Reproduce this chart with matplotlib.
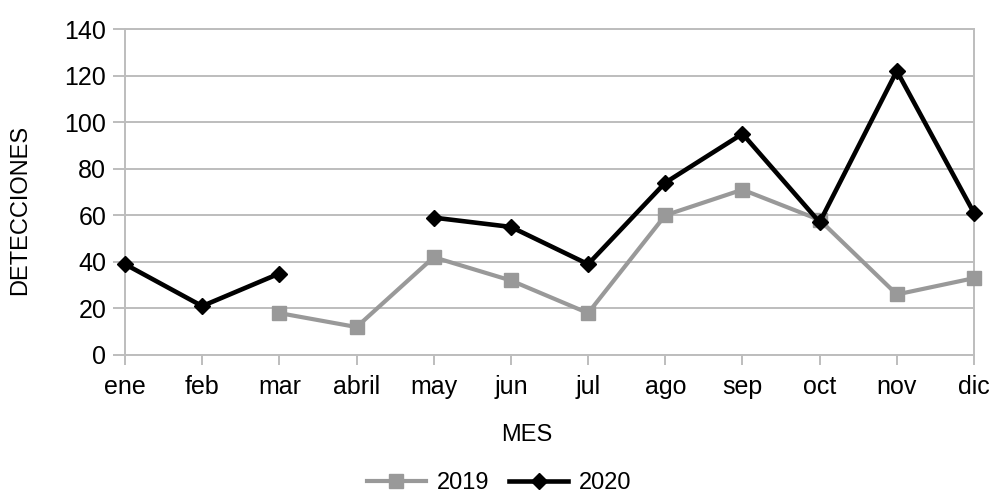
import numpy as np
import matplotlib
matplotlib.use("Agg")
import matplotlib.pyplot as plt

plt.rcParams['font.family'] = ['Liberation Sans', 'DejaVu Sans']

meses = ["ene", "feb", "mar", "abril", "may", "jun", "jul", "ago", "sep", "oct", "nov", "dic"]
det_2019 = [None, None, 18, 12, 42, 32, 18, 60, 71, 58, 26, 33]
det_2020 = [39, 21, 35, None, 59, 55, 39, 74, 95, 57, 122, 61]
y_ticks = [0, 20, 40, 60, 80, 100, 120, 140]

def as_array(vals):
    return np.array([np.nan if v is None else v for v in vals], dtype=float)

grid_col = "#bdbdbd"

fig = plt.figure(figsize=(9.91, 4.96), dpi=100)
ax = fig.add_axes([125 / 991, 1 - 355 / 496, (974 - 125) / 991, (355 - 29) / 496])

x = np.arange(len(meses))
ax.plot(x, as_array(det_2019), color="#999999", lw=3.0, marker="s", ms=10,
        label="2019", zorder=3, clip_on=False)
ax.plot(x, as_array(det_2020), color="black", lw=3.3, marker="D", ms=8,
        label="2020", zorder=4, clip_on=False)

ax.set_xlim(0, len(meses) - 1)
ax.set_ylim(0, 140)
ax.set_xticks(x)
ax.set_xticklabels(meses)
ax.set_yticks(y_ticks)
ax.yaxis.grid(True, color=grid_col, lw=1.4)
ax.set_axisbelow(True)

for s in ax.spines.values():
    s.set_color(grid_col)
    s.set_linewidth(1.4)
ax.tick_params(axis="both", colors=grid_col, width=1.4,
               labelcolor="black", labelsize=18)
ax.tick_params(axis="y", length=8.5, pad=5)
ax.tick_params(axis="x", length=7.5, pad=7)

ax.set_xlabel("MES", fontsize=17, va="center", ha="center")
ax.xaxis.set_label_coords((527 - 125) / 849, (355 - 435) / 326)
ax.set_ylabel("DETECCIONES", fontsize=17, va="center", ha="center")
ax.yaxis.set_label_coords((20 - 125) / 849, (355 - 210) / 326)

leg = fig.legend(loc="center", bbox_to_anchor=(499 / 991, 1 - 483 / 496), ncol=2,
                 frameon=False, fontsize=17, handlelength=2.5, handletextpad=0.45,
                 columnspacing=0.85, borderaxespad=0)

fig.savefig("out.png", dpi=100)
